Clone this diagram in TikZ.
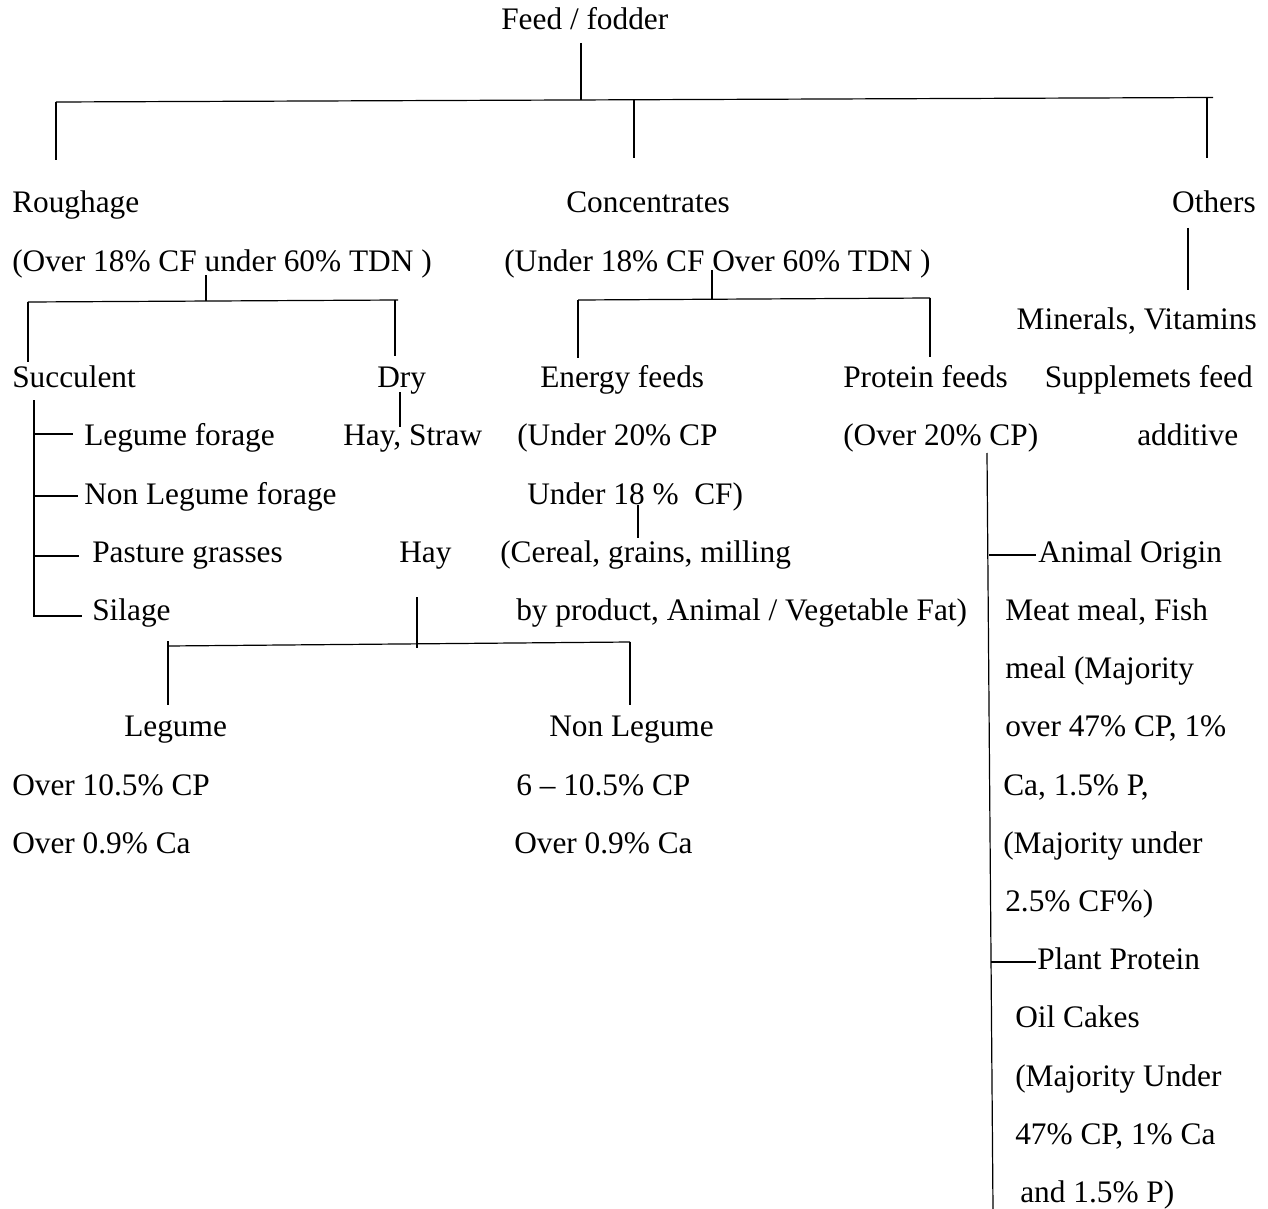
\documentclass[tikz,border=0pt]{standalone}
\usepackage{fontspec}
\setmainfont{Liberation Serif}
\usepackage{tikz}

\begin{document}
\begin{tikzpicture}[x=0.75pt,y=0.75pt,yscale=-1,xscale=1,
  lbl/.style={anchor=base west,inner sep=0pt,font=\fontsize{23.5}{28}\selectfont},
  lblr/.style={lbl,anchor=base east},
  conn/.style={line width=0.9pt}]
\useasboundingbox (0,0) rectangle (1268,1209);

% Text Node
\node[lbl] (feed) at (501,30) {Feed / fodder};
% Text Node
\node[lbl] (rough) at (12,213) {Roughage};
\node[lbl] (roughnote) at (12,271.2) {(Over 18\% CF under 60\% TDN )};
% Text Node
\node[lbl] (conc) at (566,213) {Concentrates};
\node[lbl] (concnote) at (504,271.2) {(Under 18\% CF Over 60\% TDN )};
% Text Node
\node[lblr] (others) at (1256,213) {Others};
\node[lblr] (minvit) at (1257,329.4) {Minerals, Vitamins};
\node[lblr] (suppl) at (1253,387.6) {Supplemets feed};
\node[lbl] (additive) at (1137,445.8) {additive};
% Text Node
\node[lbl] (succ) at (12,387.6) {Succulent};
\node[lbl] (legfor) at (84,445.8) {Legume forage};
\node[lbl] (nonlegfor) at (84,504) {Non Legume forage};
\node[lbl] (pasture) at (92,562.2) {Pasture grasses};
\node[lbl] (silage) at (92,620.4) {Silage};
% Text Node
\node[lbl] (dry) at (377,387.6) {Dry};
\node[lbl] (haystraw) at (343,445.8) {Hay, Straw};
\node[lbl] (hay) at (399,562.2) {Hay};
% Text Node
\node[lbl] (legume) at (124,736.8) {Legume};
\node[lbl] (legcp) at (12,795) {Over 10.5\% CP};
\node[lbl] (legca) at (12,853.2) {Over 0.9\% Ca};
\node[lbl] (nonlegume) at (549,736.8) {Non Legume};
\node[lbl] (nonlegcp) at (516,795) {6 -- 10.5\% CP};
\node[lbl] (nonlegca) at (514,853.2) {Over 0.9\% Ca};
% Text Node
\node[lbl] (energy) at (540,387.6) {Energy feeds};
\node[lbl] (energya) at (517,445.8) {(Under 20\% CP};
\node[lbl] (energyb) at (527,504) {Under 18 \%\ \ CF)};
\node[lbl] (cereal) at (500,562.2) {(Cereal, grains, milling};
\node[lbl] (byprod) at (516,620.4) {by product, Animal / Vegetable Fat)};
% Text Node
\node[lbl] (protein) at (843,387.6) {Protein feeds};
\node[lbl] (proteina) at (843,445.8) {(Over 20\% CP)};
\node[lbl] (animal) at (1038,562.2) {Animal Origin};
\node[lbl] (meata) at (1005,620.4) {Meat meal, Fish};
\node[lbl] (meatb) at (1005,678.6) {meal (Majority};
\node[lbl] (meatc) at (1005,736.8) {over 47\% CP, 1\%};
\node[lbl] (meatd) at (1003,795) {Ca, 1.5\% P,};
\node[lbl] (meate) at (1003,853.2) {(Majority under};
\node[lbl] (meatf) at (1005,911.4) {2.5\% CF\%)};
\node[lbl] (plant) at (1037,969.6) {Plant Protein};
\node[lbl] (oila) at (1015,1027.8) {Oil Cakes};
\node[lbl] (oilb) at (1015,1086) {(Majority Under};
\node[lbl] (oilc) at (1015,1144.2) {47\% CP, 1\% Ca};
\node[lbl] (oild) at (1020,1202.4) {and 1.5\% P)};

% junction points
\coordinate (feedT) at (581,43);
\coordinate (feedB) at (581,100);
\coordinate (busL) at (56,102);
\coordinate (busR) at (1213,97.5);
\coordinate (roughT) at (56,160);
\coordinate (concA) at (634,100);
\coordinate (concT) at (634,158);
\coordinate (othA) at (1207,98);
\coordinate (othT) at (1207,158);
\coordinate (othB) at (1188,228);
\coordinate (minT) at (1188,290);
\coordinate (rsA) at (206,275);
\coordinate (rsB) at (206,301);
\coordinate (rbusL) at (28,302);
\coordinate (rbusR) at (398,300);
\coordinate (succT) at (28,362);
\coordinate (dryA) at (395,300);
\coordinate (dryT) at (395,356);
\coordinate (csA) at (712,270);
\coordinate (csB) at (712,299);
\coordinate (cbusL) at (578,300);
\coordinate (cbusR) at (930,298);
\coordinate (enT) at (578,358);
\coordinate (prT) at (930,357);
\coordinate (dryB) at (400,392);
\coordinate (hsT) at (400,427);
\coordinate (stemT) at (34,400);
\coordinate (stemB) at (34,617);
\coordinate (legforJ) at (73,434);
\coordinate (nonlegforJ) at (78,496);
\coordinate (pastureJ) at (79,556);
\coordinate (silageJ) at (82,616);
\coordinate (enA) at (638,505);
\coordinate (enB) at (638,538);
\coordinate (hayA) at (417,597);
\coordinate (hayB) at (417,648);
\coordinate (hbusL) at (168,646);
\coordinate (hbusR) at (630,642);
\coordinate (legA) at (168,641);
\coordinate (legT) at (168,705);
\coordinate (nonlegT) at (630,705);
\coordinate (prA) at (987,453);
\coordinate (prB) at (993,1209);
\coordinate (animalA) at (989,555);
\coordinate (animalJ) at (1036,555);
\coordinate (plantA) at (991,962);
\coordinate (plantJ) at (1036,962);

%Straight Lines
\draw[conn] (feedT) -- (feedB);
\draw[conn] (busL) -- (busR);
\draw[conn] (busL) -- (roughT);
\draw[conn] (concA) -- (concT);
\draw[conn] (othA) -- (othT);
\draw[conn] (othB) -- (minT);
%Straight Lines
\draw[conn] (rsA) -- (rsB);
\draw[conn] (rbusL) -- (rbusR);
\draw[conn] (rbusL) -- (succT);
\draw[conn] (dryA) -- (dryT);
\draw[conn] (dryB) -- (hsT);
%Straight Lines
\draw[conn] (csA) -- (csB);
\draw[conn] (cbusL) -- (cbusR);
\draw[conn] (cbusL) -- (enT);
\draw[conn] (cbusR) -- (prT);
\draw[conn] (enA) -- (enB);
%Straight Lines
\draw[conn] (stemT) -- (stemB);
\draw[conn] (stemT |- legforJ) -- (legforJ);
\draw[conn] (stemT |- nonlegforJ) -- (nonlegforJ);
\draw[conn] (stemT |- pastureJ) -- (pastureJ);
\draw[conn] (stemT |- silageJ) -- (silageJ);
%Straight Lines
\draw[conn] (hayA) -- (hayB);
\draw[conn] (hbusL) -- (hbusR);
\draw[conn] (legA) -- (legT);
\draw[conn] (hbusR) -- (nonlegT);
%Straight Lines
\draw[conn] (prA) -- (prB);
\draw[conn] (animalA) -- (animalJ);
\draw[conn] (plantA) -- (plantJ);

\end{tikzpicture}
\end{document}
